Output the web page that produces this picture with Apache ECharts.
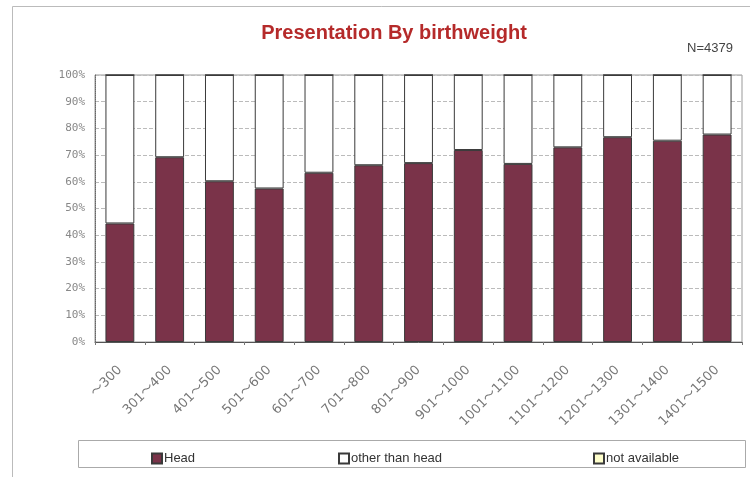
<!DOCTYPE html>
<html><head><meta charset="utf-8">
<script src="https://cdn.jsdelivr.net/npm/echarts@6/dist/echarts.min.js"></script>
<style>html,body{margin:0;padding:0;background:#fff}#c{width:750px;height:477px}</style>
</head><body><div id="c"></div>
<script>
var categories = ['～300','301～400','401～500','501～600','601～700','701～800','801～900','901～1000','1001～1100','1101～1200','1201～1300','1301～1400','1401～1500'];
var headPct = [44.4, 69.2, 60.2, 57.5, 63.4, 66.2, 67.0, 71.9, 66.7, 72.9, 76.7, 75.4, 77.7];
var notAvailablePct = [0,0,0,0,0,0,0,0,0,0,0,0,0];
var otherPct = headPct.map(function(v,i){return +(100 - v - notAvailablePct[i]).toFixed(1);});
var yTicks = [0,10,20,30,40,50,60,70,80,90,100];

var chart = echarts.init(document.getElementById('c'));
var barBorder = {borderColor:'#3a3a3a', borderWidth:1};
chart.setOption({
  animation:false,
  backgroundColor:'#fff',
  title:[{text:'Presentation By birthweight', left:389, top:18, textAlign:'center',
    textStyle:{fontFamily:'Liberation Sans', fontWeight:'bold', fontSize:20, color:'#b52a2a'}},
    {text:'N=4379', right:12, top:37, textStyle:{fontFamily:'Liberation Sans', fontWeight:'normal', fontSize:13, color:'#444'}}],
  graphic:[
    {type:'rect', shape:{x:12.5,y:6.5,width:760,height:480}, style:{fill:'none', stroke:'#bbb', lineWidth:1}, silent:true},
    {type:'rect', shape:{x:78.5,y:440.5,width:667,height:27}, style:{fill:'none', stroke:'#aaa', lineWidth:1}, silent:true}
  ],
  legend:[
    {data:['Head'], left:146, top:447, itemWidth:10, itemHeight:10, itemGap:3, icon:'rect',
      textStyle:{fontFamily:'Liberation Sans', fontSize:13, color:'#333', padding:[0,0,0,-3]}},
    {data:['other than head'], left:333, top:447, itemWidth:10, itemHeight:10, icon:'rect',
      textStyle:{fontFamily:'Liberation Sans', fontSize:13, color:'#333', padding:[0,0,0,-3]}},
    {data:['not available'], left:588, top:447, itemWidth:10, itemHeight:10, icon:'rect',
      textStyle:{fontFamily:'Liberation Sans', fontSize:13, color:'#333', padding:[0,0,0,-3]}}
  ],
  grid:{left:95, right:8, top:75, bottom:135, show:true, borderColor:'#999', borderWidth:1},
  xAxis:{type:'category', data:categories, boundaryGap:true,
    axisLine:{lineStyle:{color:'#555'}}, axisTick:{show:true, length:3, lineStyle:{color:'#777'}},
    axisLabel:{rotate:45, margin:26, fontFamily:'DejaVu Sans, Noto Sans CJK JP', fontSize:13, color:'#777', interval:0}},
  yAxis:{type:'value', min:0, max:100, interval:10,
    axisLine:{show:true, lineStyle:{color:'#666', type:'dotted'}}, axisTick:{show:false},
    axisLabel:{formatter:function(v){return v+'%';}, fontFamily:'DejaVu Sans Mono', fontSize:11, color:'#888', margin:10},
    splitLine:{lineStyle:{color:'#bbb', type:'dashed'}}},
  series:[
    {name:'Head', type:'bar', stack:'t', data:headPct, barWidth:'58%',
      itemStyle:Object.assign({color:'#7a3349'}, barBorder)},
    {name:'other than head', type:'bar', stack:'t', data:otherPct,
      itemStyle:Object.assign({color:'#ffffff'}, barBorder)},
    {name:'not available', type:'bar', stack:'t', data:notAvailablePct,
      itemStyle:{color:'#ffffcc', borderColor:'#3a3a3a', borderWidth:1}}
  ]
});
</script></body></html>
